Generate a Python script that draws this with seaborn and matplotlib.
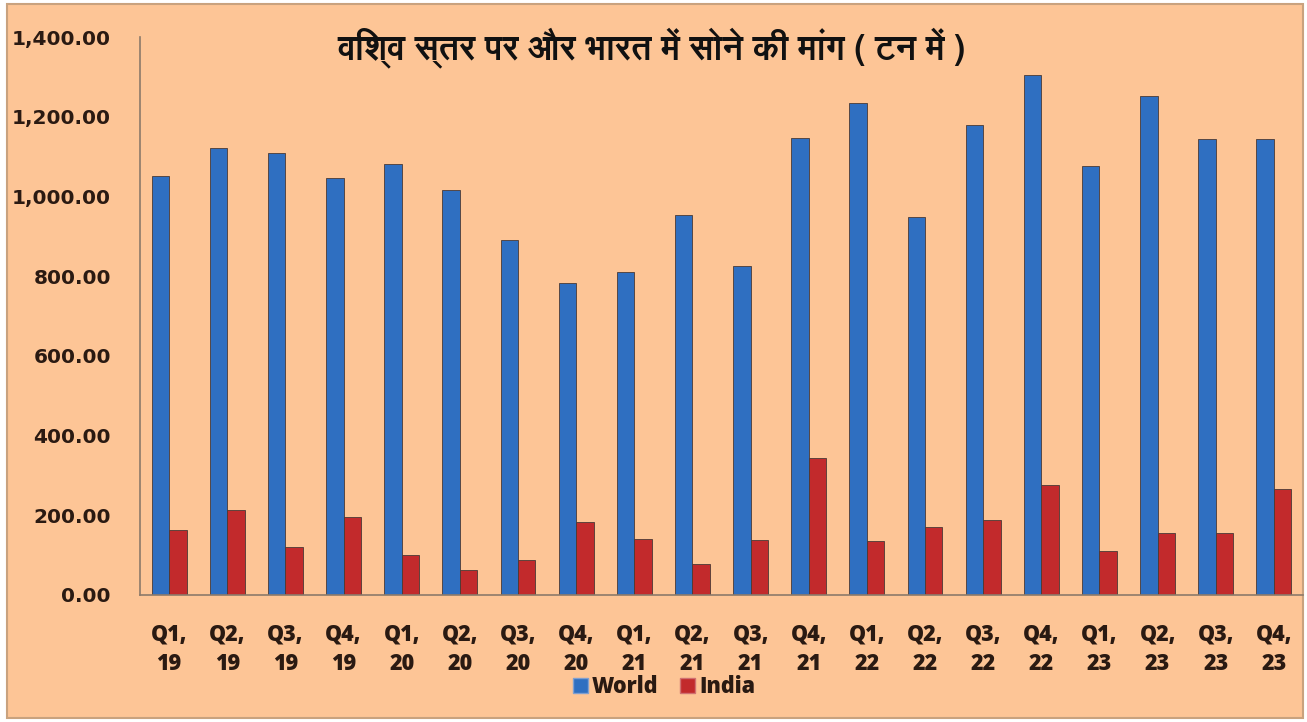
import matplotlib
matplotlib.use("Agg")
import matplotlib.pyplot as plt
import matplotlib.patches as mpatches
from matplotlib import font_manager as fm
from matplotlib.ft2font import FT2Font
from matplotlib.ticker import FixedLocator, FuncFormatter
import seaborn as sns
import pandas as pd

quarters = ["Q1,\n19", "Q2,\n19", "Q3,\n19", "Q4,\n19",
            "Q1,\n20", "Q2,\n20", "Q3,\n20", "Q4,\n20",
            "Q1,\n21", "Q2,\n21", "Q3,\n21", "Q4,\n21",
            "Q1,\n22", "Q2,\n22", "Q3,\n22", "Q4,\n22",
            "Q1,\n23", "Q2,\n23", "Q3,\n23", "Q4,\n23"]
world = [1052, 1122, 1109, 1047, 1082, 1017, 891, 783, 811, 954,
         826, 1147, 1235, 949, 1180, 1305, 1077, 1252, 1145, 1145]
india = [163, 213, 121, 196, 100, 63, 88, 183, 140, 78,
         138, 344, 135, 170, 188, 276, 110, 156, 156, 266]
series = ["World", "India"]
title = "विश्व स्तर पर और भारत में सोने की मांग ( टन में )"
yticks = [0, 200, 400, 600, 800, 1000, 1200, 1400]

BG = "#FDC596"


def find_deva():
    names = []
    for f in fm.fontManager.ttflist:
        try:
            if 0x0935 in FT2Font(f.fname).get_charmap():
                names.append((f.weight, f.name))
        except Exception:
            pass
    if not names:
        return None
    bold = [n for w, n in names if str(w) in ("bold", "700", "600", "800")]
    return bold[0] if bold else names[0][1]


sns.set_theme(style="white")
deva = find_deva()
plt.rcParams["font.family"] = ["DejaVu Sans"]

df = pd.DataFrame({
    "quarter": quarters * 2,
    "value": world + india,
    "series": [series[0]] * len(world) + [series[1]] * len(india),
})

fig = plt.figure(figsize=(13.07, 7.22), dpi=100)
fig.patch.set_facecolor("white")
fig.patches.append(mpatches.Rectangle((7 / 1307, 4 / 722), 1296 / 1307, 714 / 722,
                                      transform=fig.transFigure, facecolor=BG,
                                      edgecolor="#c9a27e", linewidth=1.5, zorder=-5))

ax = fig.add_axes([140 / 1307, (722 - 595) / 722, (1303 - 140) / 1307, (595 - 37) / 722])
ax.set_zorder(2)
ax.set_facecolor(BG)
ax.patch.set_alpha(0)

sns.barplot(data=df, x="quarter", y="value", hue="series", order=quarters,
            hue_order=series, palette=["#2F6FC1", "#C22A2C"], width=0.6,
            saturation=1, ax=ax, edgecolor="#4a3a35", linewidth=0.6, legend=False)

ax.set_ylim(0, 1400)
ax.set_xlim(-0.5, len(quarters) - 0.5)
ax.yaxis.set_major_locator(FixedLocator(yticks))
ax.yaxis.set_major_formatter(FuncFormatter(lambda v, p: f"{v:,.2f}"))
ax.set_xlabel("")
ax.set_ylabel("")

for s in ["top", "right"]:
    ax.spines[s].set_visible(False)
for s in ["left", "bottom"]:
    ax.spines[s].set_color("#8c7a6a")
    ax.spines[s].set_linewidth(1.2)

ax.tick_params(axis="y", which="major", direction="out", length=6, width=1,
               color="#8c7a6a", pad=15, labelsize=14.5, labelcolor="#2a1a12")
for lab in ax.get_yticklabels():
    lab.set_fontweight("bold")

ax.xaxis.set_minor_locator(FixedLocator([i + 0.5 for i in range(-1, len(quarters))]))
ax.tick_params(axis="x", which="major", length=0, pad=20, labelcolor="#2a1a12")
ax.tick_params(axis="x", which="minor", direction="out", length=6, width=1,
               color="#8c7a6a")
ax.set_xticks(range(len(quarters)))
ax.set_xticklabels(quarters, fontsize=15.5, fontweight="heavy", linespacing=1.3,
                   family=["Open Sans", "DejaVu Sans"])

handles = [mpatches.Patch(facecolor="#2F6FC1", edgecolor="#7f9fd0"),
           mpatches.Patch(facecolor="#C22A2C", edgecolor="#d07070")]
leg = fig.legend(handles, series, loc="center", bbox_to_anchor=(664 / 1307, 1 - 687 / 722),
                 ncol=2, frameon=False, handlelength=0.7, handleheight=0.7,
                 handletextpad=0.2, columnspacing=1.0, prop={"size": 15.5})
for t in leg.get_texts():
    t.set_fontfamily(["Open Sans", "DejaVu Sans"])
    t.set_fontweight("heavy")
    t.set_color("#2a1a12")

tfam = [deva, "DejaVu Sans"] if deva else ["DejaVu Sans"]
fig.text(652 / 1307, 1 - 48 / 722, title, ha="center", va="center",
         fontsize=24.5, fontweight="bold", color="#111111", family=tfam)

fig.savefig("out.png", dpi=100, facecolor=fig.get_facecolor())
